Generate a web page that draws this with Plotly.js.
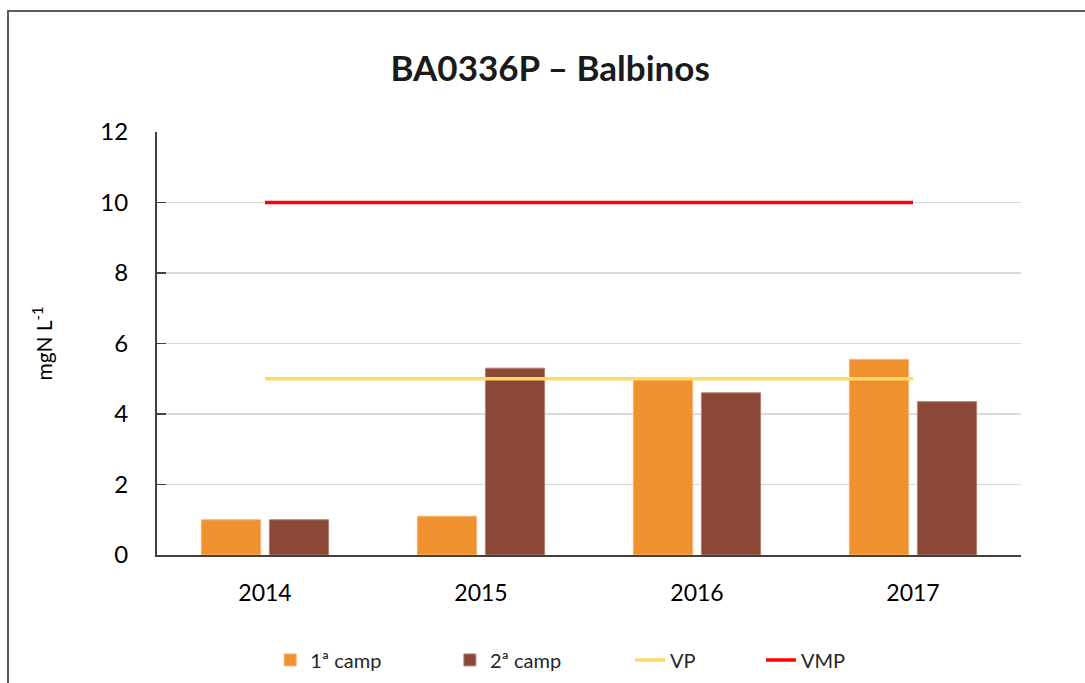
<!DOCTYPE html>
<html>
<head>
<meta charset="utf-8">
<script src="https://cdn.plot.ly/plotly-3.0.1.min.js"></script>
<style>
  html, body { margin: 0; padding: 0; background: #ffffff; overflow: hidden; }
  #frame { position: absolute; left: 7px; top: 10px; width: 1200px; height: 800px;
           border-left: 2px solid #5a5a5a; border-top: 2px solid #5a5a5a; }
  #chart { position: absolute; left: 0; top: 0; width: 1085px; height: 683px; }
</style>
</head>
<body>
<div id="frame"></div>
<div id="chart"></div>
<script>
const years = ['2014', '2015', '2016', '2017'];
const camp1 = [1.0, 1.1, 5.0, 5.55];
const camp2 = [1.0, 5.3, 4.6, 4.35];
const vp = [5, 5, 5, 5];
const vmp = [10, 10, 10, 10];
const seriesNames = ['1ª camp', '2ª camp', 'VP', 'VMP'];

const FONT = 'Lato, "Open Sans", sans-serif';

const traces = [
  { type: 'bar', x: years, y: camp1, name: seriesNames[0], legend: 'legend',
    marker: { color: '#F0912F', line: { color: '#F6B673', width: 1 } } },
  { type: 'bar', x: years, y: camp2, name: seriesNames[1], legend: 'legend2',
    marker: { color: '#8B4836', line: { color: '#B5826F', width: 1 } } },
  { type: 'scatter', mode: 'lines', x: years, y: vp, name: seriesNames[2], legend: 'legend3',
    line: { color: '#FFD966', width: 3.5 } },
  { type: 'scatter', mode: 'lines', x: years, y: vmp, name: seriesNames[3], legend: 'legend4',
    line: { color: '#FF0000', width: 3.5 } }
];

function leg(x) {
  return { x: x, y: -0.248, xanchor: 'left', yanchor: 'middle', orientation: 'h',
           bgcolor: 'rgba(0,0,0,0)', font: { family: FONT, size: 20, color: '#262626' } };
}

const layout = {
  width: 1085, height: 683,
  margin: { l: 157, r: 64, t: 132, b: 128, autoexpand: false },
  paper_bgcolor: 'rgba(0,0,0,0)',
  plot_bgcolor: '#ffffff',
  font: { family: FONT, color: '#000000' },
  title: { text: '<b>BA0336P – Balbinos</b>', x: 0.507, xref: 'container', xanchor: 'center',
           y: 0.9, yref: 'container', yanchor: 'middle',
           font: { family: FONT, size: 35, color: '#1a1a1a' } },
  barmode: 'group',
  bargap: 0.37,
  bargroupgap: 0.13,
  showlegend: true,
  legend: leg(0.131),
  legend2: leg(0.339),
  legend3: leg(0.5475),
  legend4: leg(0.699),
  xaxis: {
    type: 'category',
    showline: true, linecolor: '#404040', linewidth: 2,
    ticks: '', showgrid: false,
    tickfont: { family: FONT, size: 23, color: '#000000' },
    ticklabelstandoff: 16
  },
  yaxis: {
    range: [0, 12], dtick: 2, tick0: 0,
    showline: true, linecolor: '#404040', linewidth: 2,
    ticks: 'inside', ticklen: 9, tickcolor: '#404040', tickwidth: 1.5,
    showgrid: true, gridcolor: '#d9d9d9', gridwidth: 1.5,
    zeroline: false,
    tickfont: { family: FONT, size: 24, color: '#000000' },
    ticklabelstandoff: 22,
    title: { text: 'mgN L<sup>-1</sup>', standoff: 42,
             font: { family: FONT, size: 21, color: '#000000' } }
  }
};

Plotly.newPlot('chart', traces, layout, { staticPlot: true, displayModeBar: false });
</script>
</body>
</html>
